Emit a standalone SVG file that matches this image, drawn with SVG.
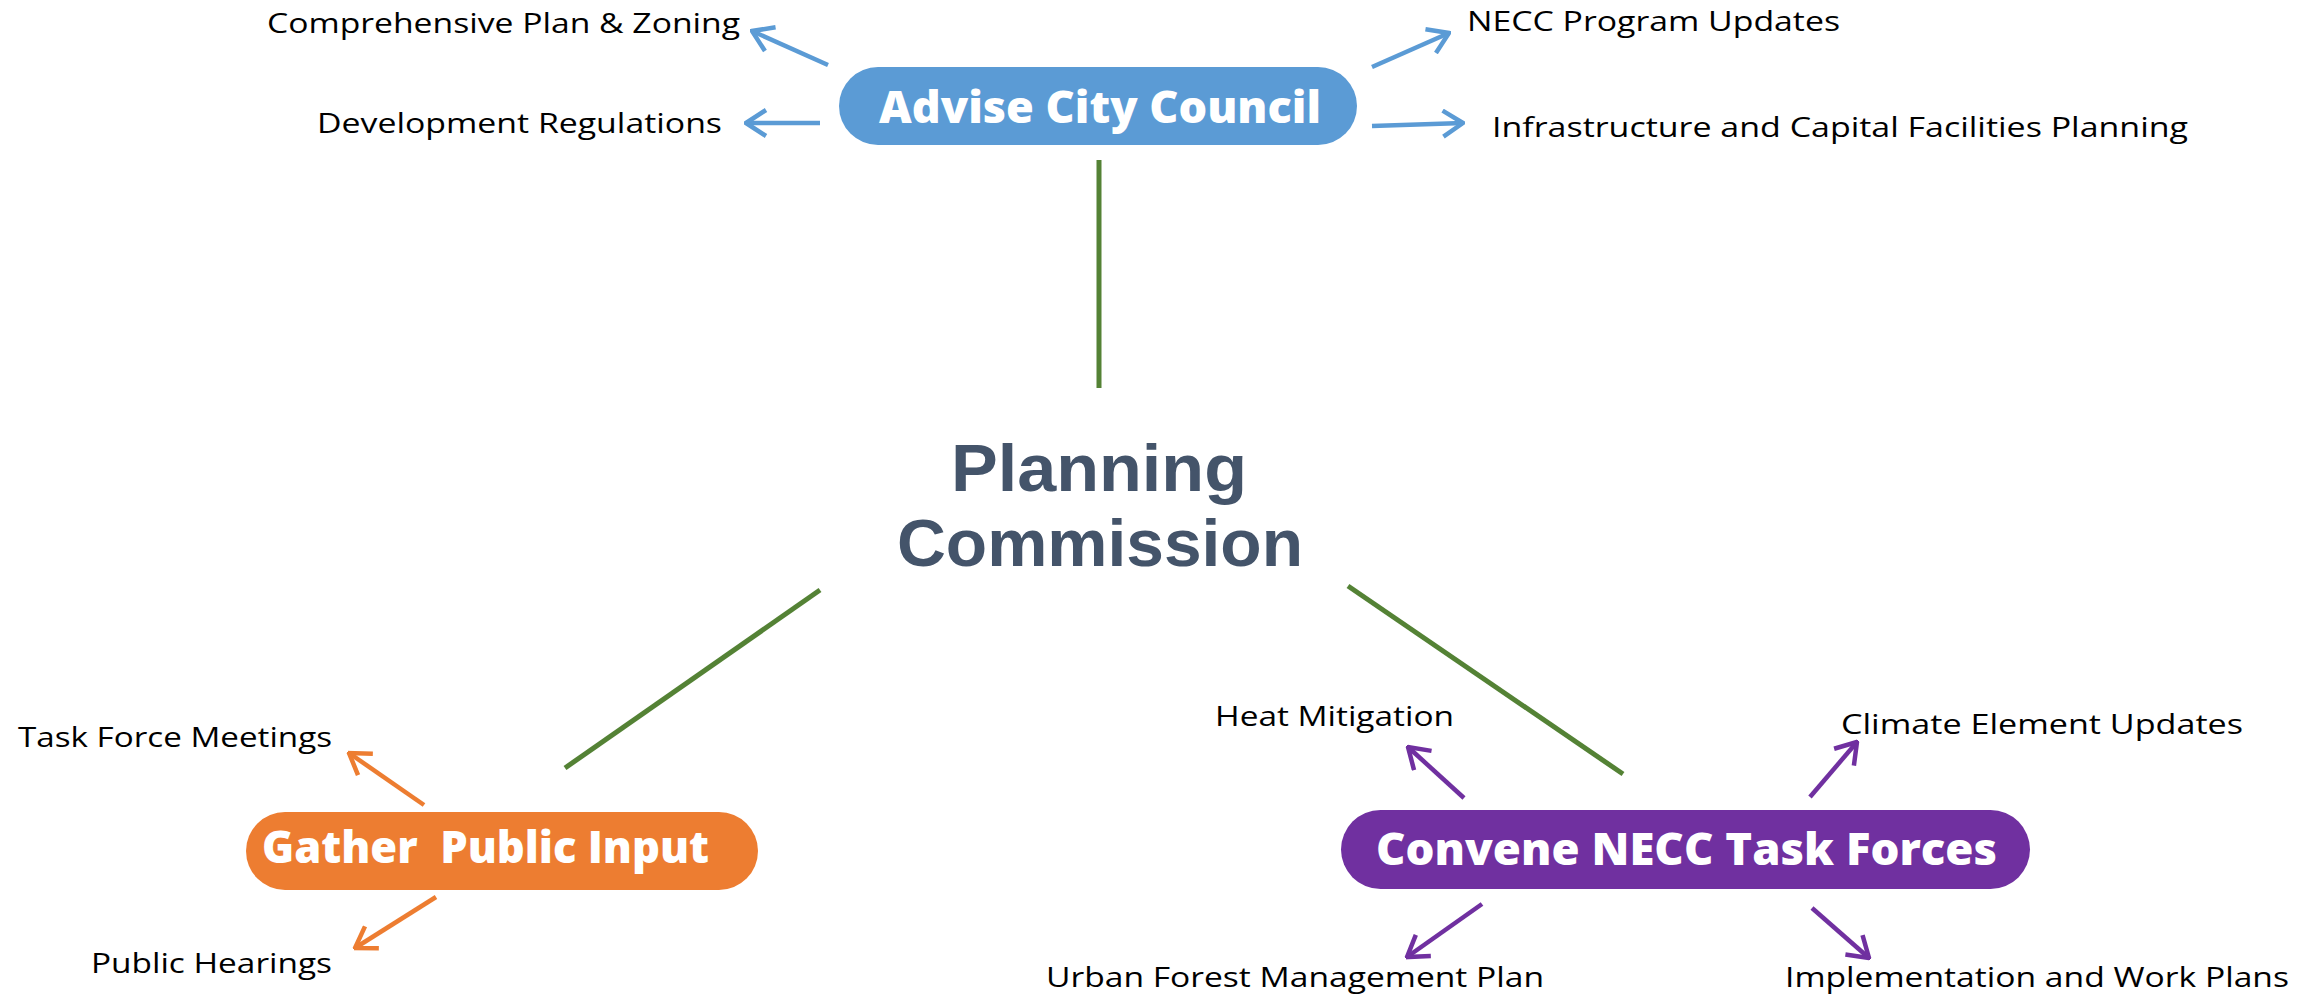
<svg xmlns="http://www.w3.org/2000/svg" width="2320" height="997" viewBox="0 0 2320 997">
<style>
.lbl{font-family:"Open Sans","Noto Sans","Liberation Sans",sans-serif;font-size:27px;fill:#000;}
.pill{font-family:"Open Sans","Inter","Liberation Sans",sans-serif;font-weight:800;font-size:44px;fill:#fff;}
.title{font-family:"Liberation Sans","Arial",sans-serif;font-weight:700;font-size:66px;fill:#44546A;}
.green{stroke:#548235;stroke-width:5;fill:none;}
.ab{stroke:#5B9BD5;stroke-width:4.5;fill:none;marker-end:url(#mb);}
.ao{stroke:#ED7D31;stroke-width:4.5;fill:none;marker-end:url(#mo);}
.ap{stroke:#7030A0;stroke-width:4.5;fill:none;marker-end:url(#mp);}
</style>
<defs>
<marker id="mb" viewBox="0 0 24 30" refX="22" refY="15" markerWidth="24" markerHeight="30" markerUnits="userSpaceOnUse" orient="auto"><path d="M2,2 L22,15 L2,28" fill="none" stroke="#5B9BD5" stroke-width="4.5"/></marker>
<marker id="mo" viewBox="0 0 24 30" refX="22" refY="15" markerWidth="24" markerHeight="30" markerUnits="userSpaceOnUse" orient="auto"><path d="M2,2 L22,15 L2,28" fill="none" stroke="#ED7D31" stroke-width="4.5"/></marker>
<marker id="mp" viewBox="0 0 24 30" refX="22" refY="15" markerWidth="24" markerHeight="30" markerUnits="userSpaceOnUse" orient="auto"><path d="M2,2 L22,15 L2,28" fill="none" stroke="#7030A0" stroke-width="4.5"/></marker>
</defs>
<rect width="2320" height="997" fill="#fff"/>
<g id="connectors">
<line class="green" x1="1099" y1="160" x2="1099" y2="388"/>
<line class="green" x1="820" y1="590" x2="565" y2="768"/>
<line class="green" x1="1348" y1="586" x2="1623" y2="774"/>
<line class="ab" x1="828" y1="65" x2="752" y2="31"/>
<line class="ab" x1="820" y1="123" x2="746" y2="123"/>
<line class="ab" x1="1372" y1="67" x2="1449" y2="33"/>
<line class="ab" x1="1372" y1="126" x2="1463" y2="123"/>
<line class="ao" x1="424" y1="805" x2="349" y2="753"/>
<line class="ao" x1="436" y1="897" x2="355" y2="948"/>
<line class="ap" x1="1464" y1="798" x2="1408" y2="747"/>
<line class="ap" x1="1810" y1="797" x2="1857" y2="742"/>
<line class="ap" x1="1482" y1="904" x2="1407" y2="957"/>
<line class="ap" x1="1812" y1="908" x2="1869" y2="958"/>
</g>
<g id="planning-commission">
<text class="title" x="951" y="491" textLength="296" lengthAdjust="spacingAndGlyphs">Planning</text>
<text class="title" x="897" y="566" textLength="406" lengthAdjust="spacingAndGlyphs">Commission</text>
</g>
<g id="advise-city-council">
<rect x="839" y="67" width="518" height="78" rx="39" fill="#5B9BD5"/>
<text class="pill" x="879" y="123" textLength="442" lengthAdjust="spacingAndGlyphs">Advise City Council</text>
</g>
<g id="gather-public-input">
<rect x="246" y="812" width="512" height="78" rx="39" fill="#ED7D31"/>
<text class="pill" x="262" y="863" textLength="447" lengthAdjust="spacingAndGlyphs" xml:space="preserve">Gather  Public Input</text>
</g>
<g id="convene-necc-task-forces">
<rect x="1341" y="810" width="689" height="79" rx="39.5" fill="#7030A0"/>
<text class="pill" x="1376" y="865" textLength="621" lengthAdjust="spacingAndGlyphs">Convene NECC Task Forces</text>
</g>
<g id="comprehensive-plan"><text class="lbl" x="267" y="33" textLength="473" lengthAdjust="spacingAndGlyphs">Comprehensive Plan &amp; Zoning</text></g>
<g id="development-regulations"><text class="lbl" x="317" y="133" textLength="405" lengthAdjust="spacingAndGlyphs">Development Regulations</text></g>
<g id="necc-program-updates"><text class="lbl" x="1467" y="31" textLength="373" lengthAdjust="spacingAndGlyphs">NECC Program Updates</text></g>
<g id="infrastructure"><text class="lbl" x="1492" y="137" textLength="696" lengthAdjust="spacingAndGlyphs">Infrastructure and Capital Facilities Planning</text></g>
<g id="task-force-meetings"><text class="lbl" x="18" y="747" textLength="314" lengthAdjust="spacingAndGlyphs">Task Force Meetings</text></g>
<g id="public-hearings"><text class="lbl" x="91" y="973" textLength="241" lengthAdjust="spacingAndGlyphs">Public Hearings</text></g>
<g id="heat-mitigation"><text class="lbl" x="1215" y="726" textLength="239" lengthAdjust="spacingAndGlyphs">Heat Mitigation</text></g>
<g id="climate-element-updates"><text class="lbl" x="1841" y="734" textLength="402" lengthAdjust="spacingAndGlyphs">Climate Element Updates</text></g>
<g id="urban-forest"><text class="lbl" x="1046" y="987" textLength="498" lengthAdjust="spacingAndGlyphs">Urban Forest Management Plan</text></g>
<g id="implementation"><text class="lbl" x="1785" y="987" textLength="504" lengthAdjust="spacingAndGlyphs">Implementation and Work Plans</text></g>
</svg>
